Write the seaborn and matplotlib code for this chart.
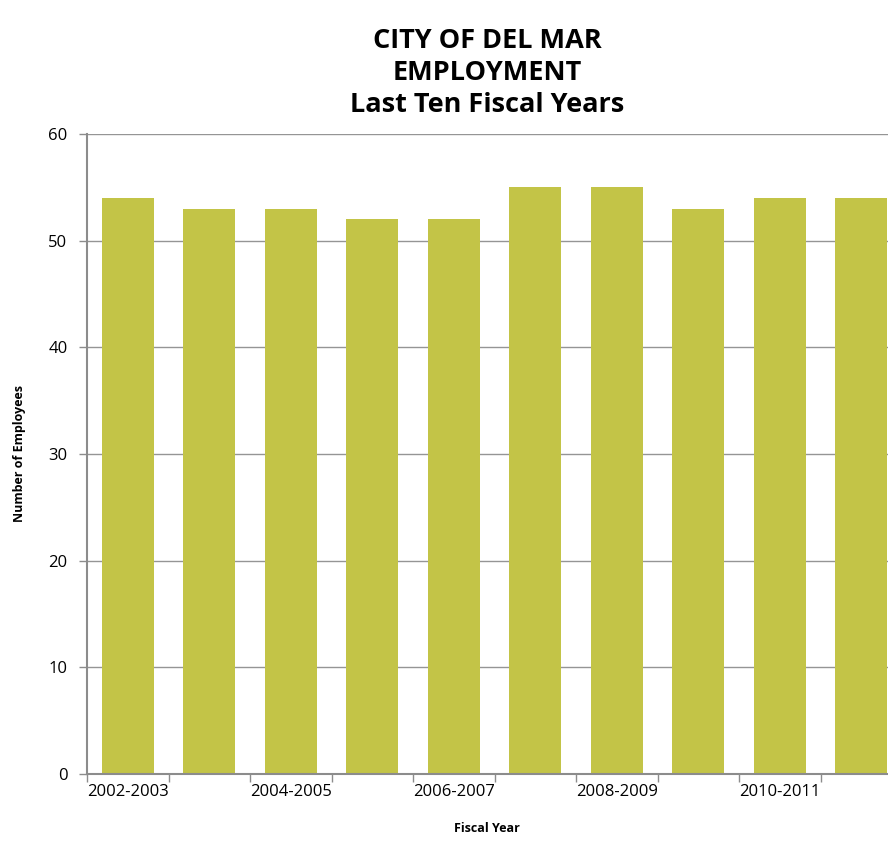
import matplotlib
matplotlib.use("Agg")
import matplotlib.pyplot as plt
import seaborn as sns
import pandas as pd

fiscal_years = ["2002-2003", "2003-2004", "2004-2005", "2005-2006", "2006-2007",
                "2007-2008", "2008-2009", "2009-2010", "2010-2011", "2011-2012"]
employees = [54, 53, 53, 52, 52, 55, 55, 53, 54, 54]

df = pd.DataFrame({"year": fiscal_years, "employees": employees})

sns.set_theme(style="white")
plt.rcParams['font.family'] = ['Open Sans', 'DejaVu Sans']
plt.rcParams['text.color'] = 'black'
plt.rcParams['xtick.color'] = 'black'
plt.rcParams['ytick.color'] = 'black'
plt.rcParams['axes.labelcolor'] = 'black'

fig = plt.figure(figsize=(8.88, 8.67), dpi=100)
ax = fig.add_axes([87 / 888, 1 - 774 / 867, 815 / 888, (774 - 134) / 867])
ax.set_axisbelow(True)

sns.barplot(data=df, x="year", y="employees", color="#C3C447", saturation=1,
            width=0.64, ax=ax, edgecolor="none", linewidth=0)

ax.set_ylim(0, 60)
ax.set_yticks(range(0, 61, 10))
ax.yaxis.grid(True, color="#959595", linewidth=1)
ax.set_xlim(-0.5, len(fiscal_years) - 0.5)

# x tick marks at category boundaries, labels on every other category
ax.set_xticks([i - 0.5 for i in range(len(fiscal_years) + 1)], minor=False)
ax.set_xticklabels([])
ax.set_xticks(range(0, len(fiscal_years), 2), minor=True)
ax.set_xticklabels([fiscal_years[i] for i in range(0, len(fiscal_years), 2)], minor=True)
ax.tick_params(axis="x", which="major", length=6, width=1, color="#8c8c8c", direction="out", bottom=True)
ax.tick_params(axis="x", which="minor", length=0, labelsize=12, pad=7, labelcolor="black")
ax.tick_params(axis="y", length=6, width=1, color="#8c8c8c", direction="out", left=True,
               labelsize=12, pad=8, labelcolor="black")

for side in ["top", "right"]:
    ax.spines[side].set_visible(False)
for side in ["left", "bottom"]:
    ax.spines[side].set_color("#8c8c8c")
    ax.spines[side].set_linewidth(1.5)

ax.set_xlabel("")
ax.set_ylabel("Number of Employees", fontsize=9, fontweight="bold", labelpad=16)
fig.text(487 / 888, 1 - 829 / 867, "Fiscal Year", ha="center", va="center",
         fontsize=9, fontweight="bold")
fig.text(487 / 888, 1 - 73 / 867, "CITY OF DEL MAR\nEMPLOYMENT\nLast Ten Fiscal Years",
         ha="center", va="center", fontsize=19.5, fontweight="bold", linespacing=1.3)

fig.savefig("out.png", dpi=100)
